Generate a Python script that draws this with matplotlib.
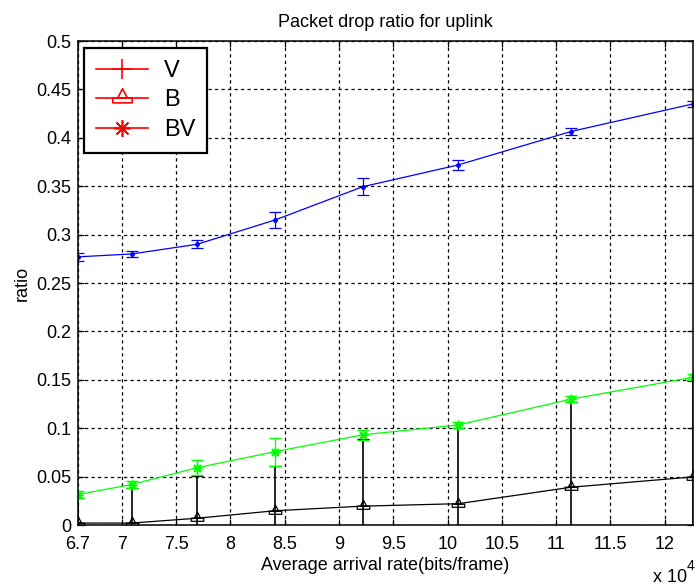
import matplotlib
matplotlib.use("Agg")
import matplotlib.pyplot as plt
import numpy as np
from matplotlib.path import Path
from matplotlib.lines import Line2D

plt.rcParams['font.family'] = ['Liberation Sans', 'DejaVu Sans']

# arrival rate (x 10^4 bits/frame)
rate = [6.595, 7.089, 7.693, 8.408, 9.22, 10.10, 11.137, 12.262]

# drop ratio and error half-widths per traffic class
v_ratio = [0.277, 0.280, 0.290, 0.315, 0.3495, 0.372, 0.4065, 0.435]
v_err = [0.004, 0.003, 0.004, 0.008, 0.009, 0.0055, 0.004, 0.003]

b_ratio = [0.002, 0.002, 0.007, 0.0147, 0.0195, 0.022, 0.039, 0.0497]
b_err = [0.026, 0.036, 0.044, 0.046, 0.069, 0.078, 0.088, 0.099]

bv_ratio = [0.0315, 0.0418, 0.0592, 0.0757, 0.0932, 0.1034, 0.130, 0.1526]
bv_err = [0.004, 0.004, 0.0075, 0.0145, 0.005, 0.003, 0.003, 0.003]

xtick_pos = [6.595, 7, 7.5, 8, 8.5, 9, 9.5, 10, 10.5, 11, 11.5, 12]
xtick_lbl = ['6.7', '7', '7.5', '8', '8.5', '9', '9.5', '10', '10.5', '11', '11.5', '12']
ytick_pos = [0, 0.05, 0.1, 0.15, 0.2, 0.25, 0.3, 0.35, 0.4, 0.45, 0.5]
ytick_lbl = ['0', '0.05', '0.1', '0.15', '0.2', '0.25', '0.3', '0.35', '0.4', '0.45', '0.5']

# triangle sitting on a flat box, like the old matlab '^' render
tri_box = Path(
    [(0, 1.0), (-0.5, 0.05), (0.5, 0.05), (0, 1.0),
     (-1.0, 0.05), (1.0, 0.05), (1.0, -0.45), (-1.0, -0.45), (-1.0, 0.05)],
    [Path.MOVETO, Path.LINETO, Path.LINETO, Path.CLOSEPOLY,
     Path.MOVETO, Path.LINETO, Path.LINETO, Path.LINETO, Path.CLOSEPOLY])
asterisk = (8, 2, 0)

fig = plt.figure(figsize=(6.96, 5.86), dpi=100)
ax = fig.add_axes([78/696, 61/586, 615/696, 484/586])

ax.errorbar(rate, v_ratio, yerr=v_err, color='blue', lw=0.9, marker='.',
            ms=5, capsize=4, elinewidth=0.9, capthick=0.9)
ax.errorbar(rate, b_ratio, yerr=b_err, color='black', lw=0.9, marker=tri_box,
            ms=9, mfc='none', mew=0.9, capsize=4, elinewidth=1.2, capthick=0.9)
ax.errorbar(rate, bv_ratio, yerr=bv_err, color='#00ff00', lw=0.9, marker=asterisk,
            ms=7, mew=1.0, capsize=4, elinewidth=0.9, capthick=0.9)

ax.set_xlim(rate[0], rate[-1])
ax.set_ylim(0, 0.5)
ax.set_xticks(xtick_pos)
ax.set_xticklabels(xtick_lbl)
ax.set_yticks(ytick_pos)
ax.set_yticklabels(ytick_lbl)
ax.tick_params(direction='in', length=4, width=0.9, top=True, right=True,
               labelsize=13)
ax.tick_params(axis='x', pad=8)
ax.tick_params(axis='y', pad=5)
ax.grid(True, color='black', linestyle=(0, (2.6, 2.6)), linewidth=0.9)
for s in ax.spines.values():
    s.set_linewidth(1.1)

ax.set_title('Packet drop ratio for uplink', fontsize=13, pad=10)
ax.set_xlabel('Average arrival rate(bits/frame)', fontsize=13, labelpad=3)
ax.set_ylabel('ratio', fontsize=13, labelpad=4)

fig.text(653/696, 4/586, 'x 10', fontsize=13, ha='left', va='baseline')
fig.text(687/696, 16/586, '4', fontsize=10, ha='left', va='baseline')

handles = [
    Line2D([], [], color='red', lw=1.2, marker='+', ms=14, mew=1.2),
    Line2D([], [], color='red', lw=1.2, marker=tri_box, ms=14, mfc='none', mew=1.2),
    Line2D([], [], color='red', lw=1.2, marker=asterisk, ms=12, mew=1.2),
]
leg = ax.legend(handles, ['V', 'B', 'BV'], loc='upper left',
                bbox_to_anchor=(0.0098, 0.9855), borderaxespad=0,
                fontsize=17, handlelength=2.2, handletextpad=0.7,
                labelspacing=0.32, borderpad=0.5, fancybox=False,
                framealpha=1, edgecolor='black')
leg.get_frame().set_linewidth(1.6)

fig.savefig('out.png', dpi=100)
